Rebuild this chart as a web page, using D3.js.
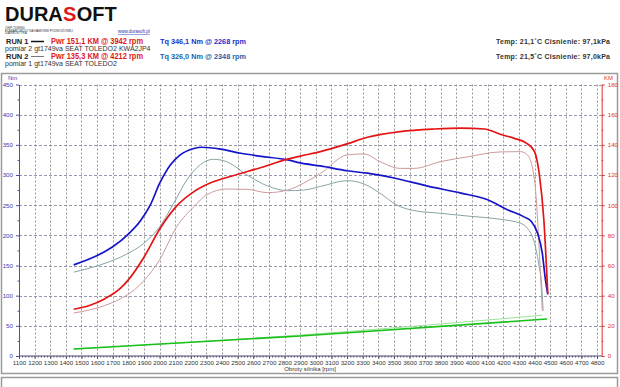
<!DOCTYPE html>
<html>
<head>
  <title>Durasoft dyno chart</title>
  <script src="https://d3js.org/d3.v7.min.js"></script>
  <style>
    body { margin: 0; background: #fff; }
    text { font-family: "Liberation Sans", Arial, sans-serif; }
  </style>
</head>
<body>
  <svg width="620" height="387"></svg>

  <script>
    // RUN 1 (pomiar 2) - torque and power
    const run1TqRpm = [1450, 1620, 1700, 1800, 1880, 1940, 2000, 2070, 2130, 2220, 2270, 2390, 2520, 2650, 2820, 2900, 3030, 3200, 3330, 3500, 3710, 3930, 4100, 4230, 4330, 4380, 4420, 4450, 4470, 4485];
    const run1Tq = [151, 169, 181, 202, 225, 250, 286, 317, 333, 344, 346, 343, 336, 331, 325, 320, 315, 307, 303, 295, 282, 270, 259, 242, 231, 223, 203, 170, 126, 102];
    const run1PwrRpm = [1450, 1550, 1650, 1750, 1800, 1900, 2000, 2110, 2220, 2320, 2470, 2650, 2820, 2900, 3030, 3200, 3330, 3540, 3760, 3930, 4080, 4180, 4270, 4350, 4400, 4430, 4460, 4485];
    const run1Pwr = [31, 33.5, 38, 45, 50.5, 65.5, 84, 99.5, 109, 114.5, 119.5, 125, 130.5, 132.5, 135.5, 140.6, 145, 148.8, 150.5, 151.1, 150.5, 147, 144.3, 141, 135.5, 121, 90, 41];

    // RUN 2 (pomiar 1) - torque and power
    const run2TqRpm = [1450, 1620, 1790, 1900, 2000, 2090, 2175, 2260, 2345, 2430, 2560, 2690, 2820, 2920, 3030, 3200, 3310, 3410, 3520, 3630, 3800, 3970, 4180, 4310, 4355, 4400, 4430, 4445, 4455];
    const run2Tq = [139, 151, 169, 187, 214, 253, 292, 317, 326, 322, 300, 282, 274, 275, 281, 290.6, 285, 270, 250, 241, 236.5, 232, 226.6, 220, 211.6, 187, 148, 120, 75];
    const run2PwrRpm = [1450, 1550, 1650, 1750, 1840, 1900, 2000, 2110, 2220, 2300, 2430, 2560, 2690, 2820, 2920, 3030, 3200, 3310, 3410, 3540, 3630, 3800, 3970, 4180, 4310, 4355, 4400, 4420, 4436, 4450];
    const run2Pwr = [28.5, 30.5, 33.5, 38, 44, 50, 63.7, 85.8, 99, 106.8, 110.7, 110.5, 108.3, 110, 114.5, 121, 133.3, 134, 128.9, 124.4, 124.4, 128.9, 132, 135.3, 135.5, 133.3, 116.7, 90, 59, 30];

    // loss power (green)
    const run1LossRpm = [1450, 2900, 4480];
    const run1Loss = [4.6, 13.3, 24.5];
    const run2LossRpm = [1450, 2900, 4450];
    const run2Loss = [4.6, 13.9, 27];

    // axis ticks
    const rpmTicks = d3.range(1100, 4801, 100);
    const nmTicks = d3.range(0, 451, 50);
    const kmTicks = d3.range(0, 181, 20);

    const svg = d3.select("svg");

    // scales
    const x = d3.scaleLinear().domain([1100, 4800]).range([19, 597]);
    const yNm = d3.scaleLinear().domain([0, 450]).range([356, 84.5]);
    const yKm = d3.scaleLinear().domain([0, 180]).range([356, 84.5]);
    const xEnd = x(4830);

    // frames
    svg.append("rect").attr("x", 1.5).attr("y", 73.5).attr("width", 616).attr("height", 300)
      .attr("fill", "none").attr("stroke", "#9a9a9a").attr("stroke-width", 1.5);
    svg.append("rect").attr("x", 1.5).attr("y", 377.5).attr("width", 616).attr("height", 20)
      .attr("fill", "none").attr("stroke", "#9a9a9a").attr("stroke-width", 1.5);

    // header logo, pieces chained by their measured width
    let lx = 5;
    [["DURA", "#111"], ["S", "#e01818"], ["OFT", "#111"]].forEach(([t, c]) => {
      const el = svg.append("text").attr("x", lx).attr("y", 21).attr("font-size", 20)
        .attr("font-weight", "bold").attr("fill", c).text(t);
      lx += el.node().getComputedTextLength() + 0.3;
    });

    const small = ["CHIP-TUNING", "POMIARY MOCY NA HAMOWNI PODWOZIOWEJ", "DIAGNOSTYKA"];
    small.forEach((s, i) => {
      svg.append("text").attr("x", 5).attr("y", 28.6 + i * 2.9).attr("font-size", 3)
        .attr("fill", "#333").text(s);
    });
    svg.append("text").attr("x", 118).attr("y", 33).attr("font-size", 4.5)
      .attr("fill", "#2233aa").attr("text-decoration", "underline").text("www.durasoft.pl");

    const rows = [
      { y: 44, run: "RUN 1", pwr: "Pwr  151,1 KM @ 3942 rpm", tq: "Tq 346,1 Nm @ 2268 rpm", tqColor: "#1a2fc8",
        env: "Temp: 21,1˚C   Cisnienie: 97,1kPa", desc: "pomiar 2 gt1749va SEAT TOLEDO2 KWA2JP4", lineW: 1.5, lineC: "#111" },
      { y: 59, run: "RUN 2", pwr: "Pwr  135,3 KM @ 4212 rpm", tq: "Tq 326,0 Nm @ 2348 rpm", tqColor: "#1f5fa8",
        env: "Temp: 21,5˚C   Cisnienie: 97,0kPa", desc: "pomiar 1 gt1749va SEAT TOLEDO2", lineW: 0.8, lineC: "#555" }
    ];
    rows.forEach(r => {
      svg.append("text").attr("x", 6).attr("y", r.y).attr("font-size", 7.5).attr("font-weight", "bold")
        .attr("fill", "#222").text(r.run);
      svg.append("line").attr("x1", 31).attr("x2", 44).attr("y1", r.y - 2.5).attr("y2", r.y - 2.5)
        .attr("stroke", r.lineC).attr("stroke-width", r.lineW);
      svg.append("text").attr("x", 51).attr("y", r.y).attr("font-size", 9.5).attr("font-weight", "bold")
        .attr("fill", "#e01818").attr("textLength", 92).attr("lengthAdjust", "spacingAndGlyphs").text(r.pwr);
      svg.append("text").attr("x", 160).attr("y", r.y - 0.5).attr("font-size", 8).attr("font-weight", "bold")
        .attr("fill", r.tqColor).attr("textLength", 86).attr("lengthAdjust", "spacingAndGlyphs").text(r.tq);
      svg.append("text").attr("x", 496).attr("y", r.y - 0.5).attr("font-size", 7).attr("font-weight", "bold")
        .attr("fill", "#333").attr("textLength", 114).attr("lengthAdjust", "spacing").text(r.env);
      svg.append("text").attr("x", 5).attr("y", r.y + 6.5).attr("font-size", 7)
        .attr("fill", "#333").text(r.desc);
    });

    // grid
    svg.append("g").selectAll("line").data(nmTicks.filter(d => d > 0)).join("line")
      .attr("x1", x(1100)).attr("x2", xEnd).attr("y1", d => Math.round(yNm(d)) + 0.5).attr("y2", d => Math.round(yNm(d)) + 0.5)
      .attr("stroke", "#8a8aa0").attr("stroke-dasharray", "3,2").attr("stroke-width", 0.9);
    svg.append("g").selectAll("line").data(rpmTicks.filter(d => d > 1100)).join("line")
      .attr("x1", d => Math.round(x(d)) + 0.5).attr("x2", d => Math.round(x(d)) + 0.5)
      .attr("y1", yNm(450)).attr("y2", yNm(0))
      .attr("stroke", "#8a8a8a").attr("stroke-dasharray", "2,2").attr("stroke-width", 0.9);

    // x axis
    const xAxis = svg.append("g").attr("transform", `translate(0,${yNm(0)})`)
      .call(d3.axisBottom(x).tickValues(rpmTicks).tickSize(3).tickSizeOuter(0).tickFormat(d3.format("d")));
    xAxis.select(".domain").attr("d", `M${x(1100)},0H${xEnd}`).attr("stroke", "#4a4a70");
    xAxis.selectAll("text").attr("font-size", 6.2).attr("fill", "#333").attr("dy", "0.55em");
    xAxis.selectAll(".tick line").attr("stroke", "#4a4a70");
    svg.append("g").attr("transform", `translate(0,${yNm(0)})`)
      .call(d3.axisBottom(x).tickValues(d3.range(1100, 4801, 20)).tickSize(1.5).tickFormat(""))
      .call(g => g.select(".domain").remove())
      .selectAll("line").attr("stroke", "#4a4a70");
    svg.append("text").attr("x", 310).attr("y", 371).attr("text-anchor", "middle")
      .attr("font-size", 6).attr("fill", "#333").text("Obroty silnika [rpm]");

    // left axis (Nm)
    const yl = svg.append("g").attr("transform", `translate(${x(1100)},0)`)
      .call(d3.axisLeft(yNm).tickValues(nmTicks).tickSize(3).tickSizeOuter(0));
    yl.select(".domain").attr("stroke", "#5050a0");
    yl.selectAll(".tick line").attr("stroke", "#5050a0");
    yl.selectAll("text").attr("font-size", 6.2).attr("fill", "#3a3ab0");
    svg.append("g").attr("transform", `translate(${x(1100)},0)`)
      .call(d3.axisLeft(yNm).tickValues(d3.range(25, 450, 50)).tickSize(1.5).tickFormat(""))
      .call(g => g.select(".domain").remove())
      .selectAll("line").attr("stroke", "#5050a0");
    svg.append("text").attr("x", 8).attr("y", 80).attr("font-size", 6).attr("fill", "#3a3ab0").text("Nm");

    // right axis (KM)
    const yr = svg.append("g").attr("transform", `translate(${xEnd},0)`)
      .call(d3.axisRight(yKm).tickValues(kmTicks).tickSize(3).tickSizeOuter(0));
    yr.select(".domain").attr("stroke", "#e03030");
    yr.selectAll(".tick line").attr("stroke", "#e03030");
    yr.selectAll("text").attr("font-size", 6.2).attr("fill", "#e03030");
    svg.append("g").attr("transform", `translate(${xEnd},0)`)
      .call(d3.axisRight(yKm).tickValues(d3.range(10, 180, 20)).tickSize(1.5).tickFormat(""))
      .call(g => g.select(".domain").remove())
      .selectAll("line").attr("stroke", "#e03030");
    svg.append("text").attr("x", 604).attr("y", 80).attr("font-size", 6).attr("fill", "#e03030").text("KM");

    // curves
    const curve = d3.curveMonotoneX;
    const series = [
      { rpm: run2LossRpm, v: run2Loss, y: yKm, c: "#9ae29a", w: 1 },
      { rpm: run1LossRpm, v: run1Loss, y: yKm, c: "#18c018", w: 1.6 },
      { rpm: run2TqRpm, v: run2Tq, y: yNm, c: "#86a4a4", w: 1 },
      { rpm: run2PwrRpm, v: run2Pwr, y: yKm, c: "#cc9a9a", w: 1 },
      { rpm: run1TqRpm, v: run1Tq, y: yNm, c: "#1414c8", w: 1.7 },
      { rpm: run1PwrRpm, v: run1Pwr, y: yKm, c: "#e41414", w: 1.7 }
    ];
    series.forEach(s => {
      const line = d3.line().x((d, i) => x(s.rpm[i])).y(d => s.y(d)).curve(curve);
      svg.append("path").datum(s.v)
        .attr("fill", "none").attr("stroke", s.c).attr("stroke-width", s.w).attr("d", line);
    });
  </script>
</body>
</html>
